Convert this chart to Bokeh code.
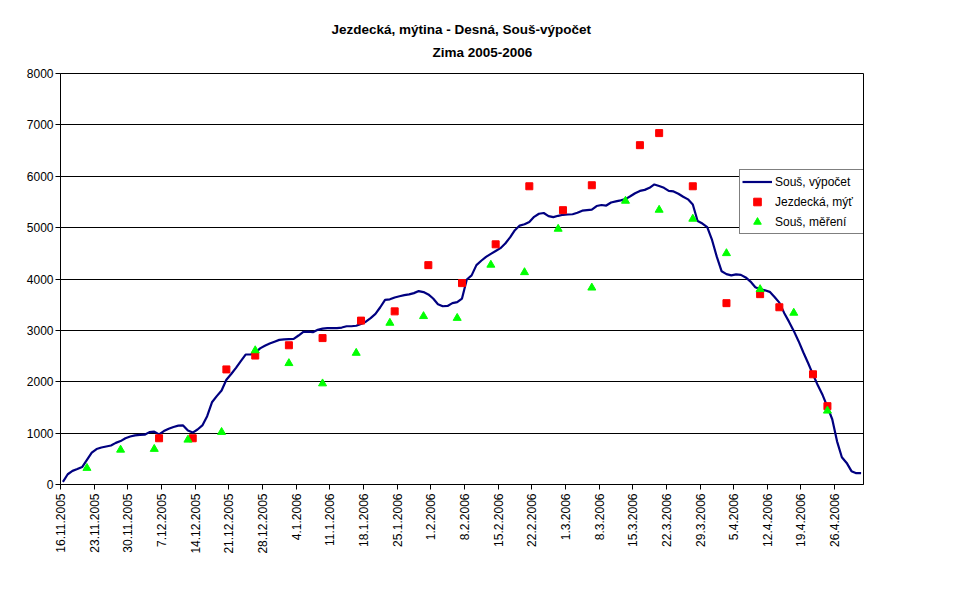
import math
import pandas as pd
from bokeh.plotting import figure
from bokeh.models import (FixedTicker, Title, Legend, LegendItem, ColumnDataSource,
                          Range1d)
from bokeh.embed import file_html
from bokeh.resources import INLINE

# ---------------- data ----------------
title_line1 = "Jezdecká, mýtina - Desná, Souš-výpočet"
title_line2 = "Zima 2005-2006"

series_line_name = "Souš, výpočet"
series_red_name = "Jezdecká, mýť"
series_green_name = "Souš, měření"

# daily computed values starting 16.11.2005
line_start = "16.11.2005"
line_values = [
    50, 200, 265, 300, 340, 480, 620, 690, 720, 740,
    760, 810, 845, 900, 935, 955, 965, 970, 1020, 1030,
    975, 1040, 1085, 1120, 1145, 1150, 1050, 1010, 1070, 1150,
    1330, 1600, 1720, 1830, 2040, 2150, 2270, 2400, 2530, 2530,
    2560, 2650, 2700, 2745, 2780, 2815, 2825, 2830, 2835, 2900,
    2970, 2975, 2965, 3010, 3035, 3045, 3045, 3045, 3055, 3080,
    3080, 3090, 3125, 3170, 3240, 3320, 3450, 3595, 3605, 3640,
    3665, 3685, 3700, 3725, 3765, 3745, 3700, 3620, 3510, 3470,
    3475, 3530, 3550, 3620, 3990, 4070, 4270, 4355, 4430, 4490,
    4545, 4600, 4690, 4810, 4950, 5040, 5065, 5110, 5210, 5270,
    5285, 5225, 5205, 5230, 5250, 5255, 5260, 5290, 5330, 5340,
    5350, 5420, 5440, 5430, 5490, 5510, 5530, 5555, 5610, 5670,
    5715, 5735, 5775, 5840, 5810, 5775, 5715, 5705, 5660, 5600,
    5550, 5450, 5130, 5080, 5010, 4760, 4430, 4150, 4095, 4070,
    4090, 4080, 4030, 3950, 3840, 3800, 3780, 3750, 3650, 3540,
    3340, 3170, 2990, 2790, 2570, 2360, 2140, 1930, 1740, 1510,
    1270, 840, 530, 420, 260, 220, 220,
]

red_dates = [
    "6.12.2005", "13.12.2005", "20.12.2005", "26.12.2005", "2.1.2006",
    "9.1.2006", "17.1.2006", "24.1.2006", "31.1.2006", "7.2.2006",
    "14.2.2006", "21.2.2006", "28.2.2006", "6.3.2006", "16.3.2006",
    "20.3.2006", "27.3.2006", "3.4.2006", "10.4.2006", "14.4.2006",
    "21.4.2006", "24.4.2006",
]
red_values = [
    900, 900, 2240, 2510, 2710, 2850, 3190, 3370, 4270, 3920,
    4675, 5805, 5340, 5825, 6605, 6840, 5805, 3530, 3705, 3450,
    2145, 1525,
]

green_dates = [
    "21.11.2005", "28.11.2005", "5.12.2005", "12.12.2005", "19.12.2005",
    "26.12.2005", "2.1.2006", "9.1.2006", "16.1.2006", "23.1.2006",
    "30.1.2006", "6.2.2006", "13.2.2006", "20.2.2006", "27.2.2006",
    "6.3.2006", "13.3.2006", "20.3.2006", "27.3.2006", "3.4.2006",
    "10.4.2006", "17.4.2006", "24.4.2006",
]
green_values = [
    320, 675, 690, 870, 1020, 2610, 2360, 1965, 2560, 3145,
    3275, 3240, 4275, 4130, 4975, 3830, 5520, 5345, 5170, 4500,
    3800, 3340, 1435,
]

tick_labels = [
    "16.11.2005", "23.11.2005", "30.11.2005", "7.12.2005", "14.12.2005",
    "21.12.2005", "28.12.2005", "4.1.2006", "11.1.2006", "18.1.2006",
    "25.1.2006", "1.2.2006", "8.2.2006", "15.2.2006", "22.2.2006",
    "1.3.2006", "8.3.2006", "15.3.2006", "22.3.2006", "29.3.2006",
    "5.4.2006", "12.4.2006", "19.4.2006", "26.4.2006",
]
axis_end = "2.5.2006"
y_ticks = [0, 1000, 2000, 3000, 4000, 5000, 6000, 7000, 8000]

# ---------------- helpers ----------------
FMT = "%d.%m.%Y"
start = pd.to_datetime(line_start, format=FMT)


def day_of(s):
    return (pd.to_datetime(s, format=FMT) - start).days


HALF = 0.5  # Excel date axis: point in the middle of its day slot
line_x = [i + HALF for i in range(len(line_values))]
red_x = [day_of(d) + HALF for d in red_dates]
green_x = [day_of(d) + HALF for d in green_dates]
tick_pos = [day_of(t) for t in tick_labels]
x_end = day_of(axis_end)

FONT = "Liberation Sans"

p = figure(width=954, height=586, output_backend="svg", toolbar_location=None,
           x_range=Range1d(0, x_end), y_range=Range1d(0, 8000),
           min_border_left=60, min_border_right=91, min_border_top=73,
           min_border_bottom=102, background_fill_color="white",
           border_fill_color="white", outline_line_color="black",
           outline_line_width=1)
p.title = None

t2 = Title(text=title_line2, align="left", offset=372, text_font=FONT,
           text_font_size="13.5px", text_font_style="bold", text_color="black",
           standoff=7, padding=dict(left=0, right=0, top=0, bottom=10))
t1 = Title(text=title_line1, align="left", offset=271, text_font=FONT,
           text_font_size="13.5px", text_font_style="bold", text_color="black",
           standoff=5)
p.add_layout(t2, "above")
p.add_layout(t1, "above")

# axes
p.xaxis.ticker = FixedTicker(ticks=tick_pos)
p.xaxis.major_label_overrides = {pos: lab for pos, lab in zip(tick_pos, tick_labels)}
p.xaxis.major_label_orientation = math.pi / 2
p.yaxis.ticker = FixedTicker(ticks=y_ticks)
for ax in (p.xaxis, p.yaxis):
    ax.axis_line_color = "black"
    ax.major_tick_line_color = "black"
    ax.major_tick_in = 0
    ax.major_tick_out = 5
    ax.minor_tick_line_color = None
    ax.major_label_text_font = FONT
    ax.major_label_text_font_size = "12px"
    ax.major_label_text_color = "black"
p.xaxis.major_label_standoff = 4
p.yaxis.major_label_standoff = 2

p.xgrid.visible = False
p.ygrid.grid_line_color = "black"
p.ygrid.grid_line_width = 1

# glyphs
src_line = ColumnDataSource(dict(x=line_x, y=line_values))
src_red = ColumnDataSource(dict(x=red_x, y=red_values))
src_green = ColumnDataSource(dict(x=green_x, y=green_values))

r_line = p.line("x", "y", source=src_line, line_color="#000080", line_width=2.2)
r_red = p.scatter("x", "y", source=src_red, marker="square", size=7,
                  fill_color="#FF0000", line_color="#FF0000")
r_green = p.scatter("x", "y", source=src_green, marker="triangle", size=8,
                    fill_color="#00FF00", line_color="#00FF00")

legend = Legend(items=[LegendItem(label=series_line_name, renderers=[r_line]),
                       LegendItem(label=series_red_name, renderers=[r_red]),
                       LegendItem(label=series_green_name, renderers=[r_green])],
                location=(679, 250), border_line_color="black", border_line_width=1,
                background_fill_color="white", background_fill_alpha=1,
                padding=2, spacing=1, margin=0, glyph_width=30, glyph_height=19,
                label_height=19, label_width=87, label_standoff=3,
                label_text_font=FONT, label_text_font_size="12px",
                label_text_color="black")
p.add_layout(legend, "center")

open("out.html", "w").write(file_html(p, INLINE))
